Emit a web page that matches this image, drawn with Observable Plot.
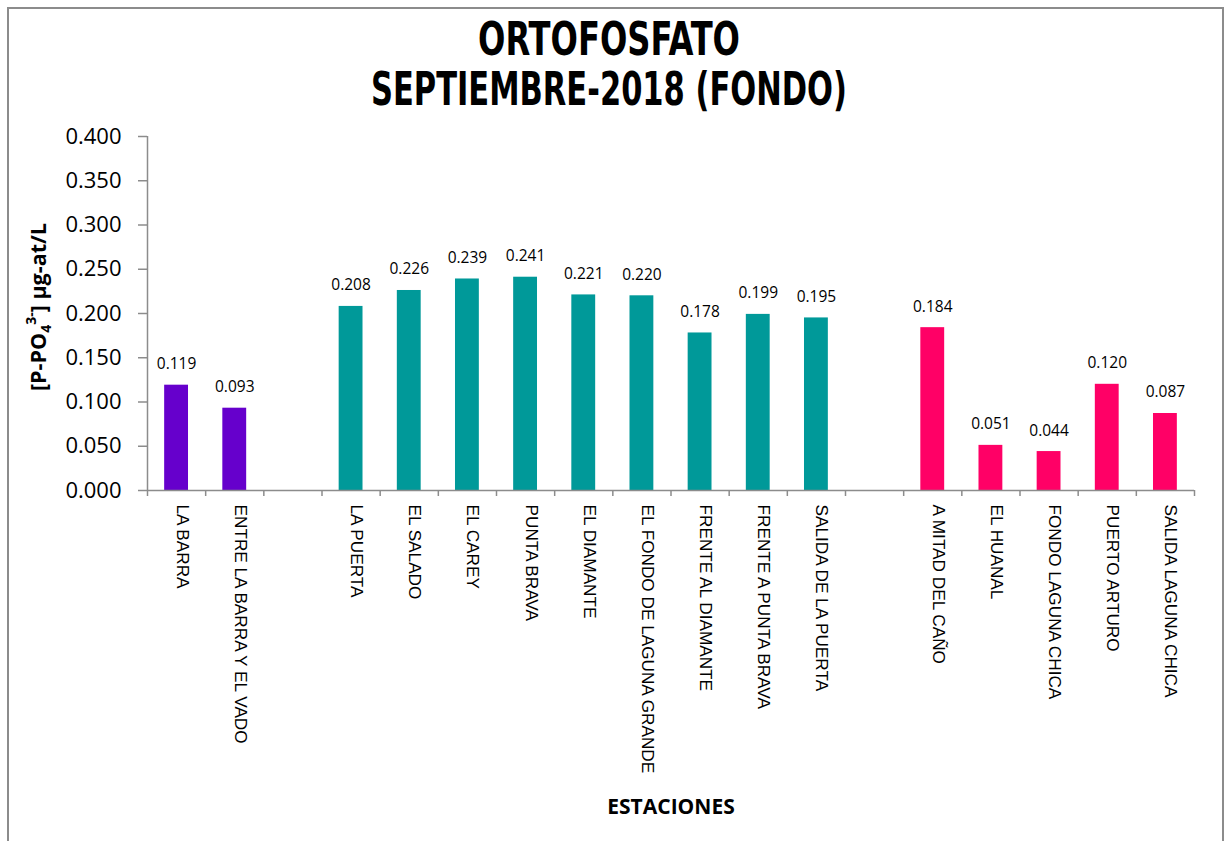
<!DOCTYPE html>
<html>
<head>
<meta charset="utf-8">
<script src="https://cdn.jsdelivr.net/npm/d3@7"></script>
<script src="https://cdn.jsdelivr.net/npm/@observablehq/plot@0.6"></script>
<style>
  html, body { margin: 0; padding: 0; background: #fff; }
  #wrap { position: relative; width: 1224px; height: 841px; overflow: hidden; }
  #border { position: absolute; left: 7px; top: 7px; width: 1217px; height: 900px; border: 2px solid #8c8c8c; box-sizing: border-box; pointer-events: none; }
</style>
</head>
<body>
<div id="wrap"><div id="chart"></div><div id="border"></div></div>
<script>
const categories = ["LA BARRA", "ENTRE LA BARRA Y EL VADO", "", "LA PUERTA", "EL SALADO", "EL CAREY", "PUNTA BRAVA", "EL DIAMANTE", "EL FONDO DE LAGUNA GRANDE", "FRENTE AL DIAMANTE", "FRENTE A PUNTA BRAVA", "SALIDA DE LA PUERTA", "", "A MITAD DEL CAÑO", "EL HUANAL", "FONDO LAGUNA CHICA", "PUERTO ARTURO", "SALIDA LAGUNA CHICA"];
const values = [0.119, 0.093, null, 0.208, 0.226, 0.239, 0.241, 0.221, 0.220, 0.178, 0.199, 0.195, null, 0.184, 0.051, 0.044, 0.120, 0.087];
const groups = ["A", "A", null, "B", "B", "B", "B", "B", "B", "B", "B", "B", null, "C", "C", "C", "C", "C"];
const groupColors = {A: "#6600CC", B: "#009999", C: "#FF0066"};
const yTicks = [0, 0.05, 0.1, 0.15, 0.2, 0.25, 0.3, 0.35, 0.4];
const titleLines = ["ORTOFOSFATO", "SEPTIEMBRE-2018 (FONDO)"];
const xTitle = "ESTACIONES";

const rows = categories.map((c, i) => ({i, name: c, value: values[i], group: groups[i]}));
const bars = rows.filter(d => d.value != null);
const slotEdges = d3.range(0, categories.length + 1);

const plot = Plot.plot({
  width: 1224,
  height: 841,
  marginLeft: 147,
  marginRight: 30,
  marginTop: 136,
  marginBottom: 351,
  style: {background: "transparent", color: "black"},
  x: {type: "linear", domain: [0, categories.length]},
  y: {type: "linear", domain: [0, 0.4]},
  marks: [
    Plot.rectY(bars, {x1: d => d.i + 0.295, x2: d => d.i + 0.705, y: "value", fill: d => groupColors[d.group]}),
    Plot.axisY({ticks: yTicks, tickFormat: d3.format(".3f"), tickSize: 9, tickPadding: 17, fontSize: 22, fontFamily: "Open Sans", stroke: "#8c8c8c", strokeWidth: 1.5, fill: "black", label: null}),
    Plot.axisX({ticks: slotEdges, tickFormat: () => "", tickSize: 6, stroke: "#8c8c8c", strokeWidth: 1.5, label: null}),
    Plot.ruleY([0], {stroke: "#8c8c8c", strokeWidth: 1.5}),
    Plot.ruleX([0], {stroke: "#8c8c8c", strokeWidth: 1.5}),
    Plot.text(bars, {x: d => d.i + 0.5, y: "value", text: d => d3.format(".3f")(d.value), dy: -21, fontSize: 15.5, fontFamily: "Open Sans", fill: "black"}),
    Plot.text(rows.filter(d => d.name), {x: d => d.i + 0.5, frameAnchor: "bottom", text: "name", rotate: 90, textAnchor: "start", dy: 14, fontSize: 17.2, fontFamily: "Liberation Sans", fill: "black"}),
    Plot.text([xTitle], {frameAnchor: "bottom", text: d => d, dy: 323, fontSize: 21, fontWeight: "bold", fontFamily: "Open Sans", fill: "black"}),
    Plot.text([titleLines[0]], {frameAnchor: "top", lineAnchor: "top", text: d => d, dx: -62, dy: -114, fontSize: 46, fontWeight: "bold", fontFamily: "DejaVu Sans", fill: "black"}),
    Plot.text([titleLines[1]], {frameAnchor: "top", lineAnchor: "top", text: d => d, dx: -62, dy: -64, fontSize: 46, fontWeight: "bold", fontFamily: "DejaVu Sans", fill: "black"})
  ]
});
document.getElementById("chart").appendChild(plot);

d3.select(plot).selectAll("text").filter(function() { return this.textContent === titleLines[0]; })
  .attr("textLength", 262).attr("lengthAdjust", "spacingAndGlyphs").style("font-stretch", "condensed");
d3.select(plot).selectAll("text").filter(function() { return this.textContent === titleLines[1]; })
  .attr("textLength", 476).attr("lengthAdjust", "spacingAndGlyphs").style("font-stretch", "condensed");

// y-axis title with sub/superscript
const yt = d3.select(plot).append("text")
  .attr("transform", "translate(46,307) rotate(-90)")
  .attr("text-anchor", "middle")
  .attr("font-family", "Open Sans")
  .attr("font-weight", "bold")
  .attr("font-size", 21.5)
  .attr("fill", "black");
yt.append("tspan").text("[P-PO");
yt.append("tspan").attr("font-size", 14).attr("dy", 5).text("4");
yt.append("tspan").attr("font-size", 14).attr("dy", -15).text("3-");
yt.append("tspan").attr("dy", 10).text("] µg-at/L");
</script>
</body>
</html>
